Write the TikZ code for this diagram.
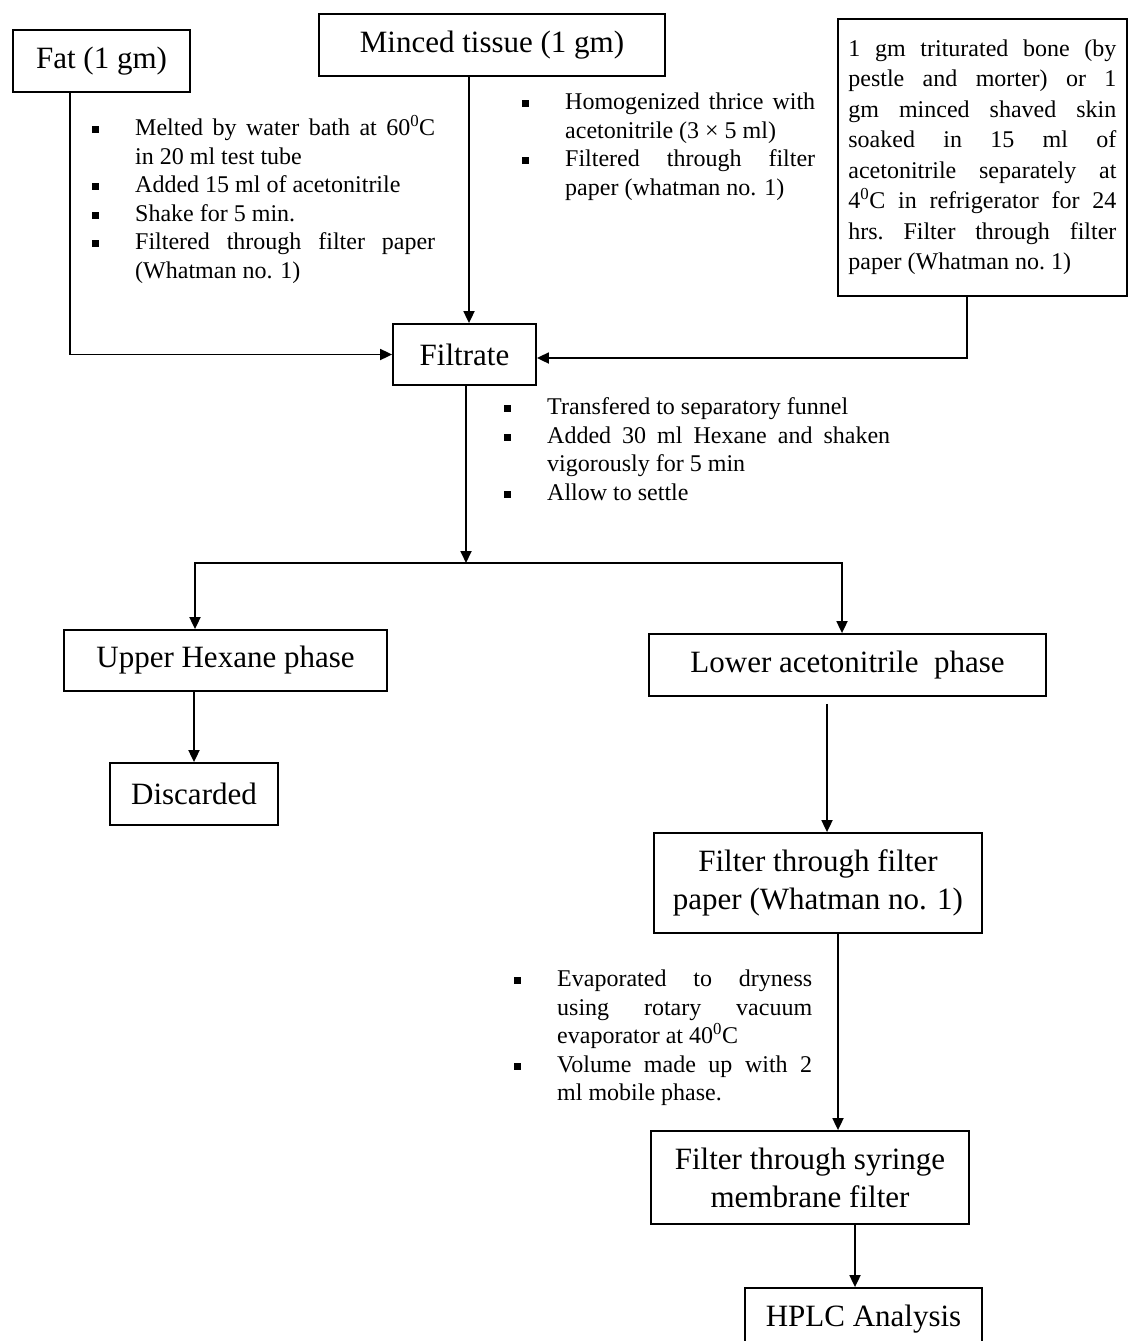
\documentclass[tikz,border=0pt]{standalone}
\usepackage{fontspec}
\setmainfont{Liberation Serif}
\usetikzlibrary{arrows.meta}
\tolerance=10000
\hbadness=10000
\newcommand{\bul}[1]{\par\hangindent=43pt\hangafter=1\noindent\makebox[43pt][l]{\raisebox{2.5pt}{\rule{7pt}{7pt}}}#1\par}
\newcommand{\degr}{\textsuperscript{0}}

\begin{document}
\begin{tikzpicture}[x=1pt,y=-1pt,
  box/.style={draw,line width=1.8pt,font=\fontsize{31}{38}\selectfont,align=center,inner sep=0pt},
  steps/.style={anchor=north west,inner sep=0pt,align=justify,font=\fontsize{24}{28.5}\selectfont},
  arr/.style={line width=1.8pt,-{Triangle[length=12pt,width=11pt]}}]
\useasboundingbox (0,0) rectangle (1127,1341);

\node[box,minimum width=177pt,minimum height=62pt] (fat) at (101.5,61) {Fat (1 gm)};
\node[box,minimum width=346pt,minimum height=62pt] (minced) at (492,45) {Minced tissue (1 gm)};
\node[box,anchor=north west,minimum width=289pt,minimum height=277pt,text width=268pt,inner xsep=10.5pt,
  align=justify,font=\fontsize{24}{30.5}\selectfont\frenchspacing] (bone) at (837,18)
  {1 gm triturated bone (by\linebreak pestle and morter) or 1\linebreak gm minced shaved skin\linebreak
   soaked in 15 ml of\linebreak acetonitrile separately at\linebreak 4\degr C in refrigerator for 24\linebreak
   hrs. Filter through filter\linebreak paper (Whatman no. 1)\par\vspace{18pt}};
\node[box,minimum width=143pt,minimum height=61pt] (filtrate) at (464.5,354.5) {Filtrate};
\node[box,minimum width=323pt,minimum height=61pt] (upper) at (225.5,660.5) {Upper Hexane phase};
\node[box,minimum width=168pt,minimum height=62pt] (discarded) at (194,794) {Discarded};
\node[box,minimum width=397pt,minimum height=62pt] (lower) at (847.5,665) {Lower acetonitrile\ \ phase};
\node[box,minimum width=328pt,minimum height=100pt] (filterpaper) at (818,883) {Filter through filter\\paper (Whatman no. 1)};
\node[box,minimum width=318pt,minimum height=93pt] (syringe) at (810,1177.5) {Filter through syringe\\membrane filter};
\node[box,minimum width=237pt,minimum height=62pt] (hplc) at (863.5,1319) {HPLC Analysis};

\node[steps,text width=343pt] (fatsteps) at (92,107)
  {\bul{Melted by water bath at 60\degr C\linebreak in 20 ml test tube}\bul{Added 15 ml of acetonitrile}%
   \bul{Shake for 5 min.}\bul{Filtered through filter paper\linebreak (Whatman no. 1)}};
\node[steps,text width=293pt] (mincedsteps) at (522,81)
  {\bul{Homogenized thrice with\linebreak acetonitrile (3 × 5 ml)}\bul{Filtered through filter\linebreak paper (whatman no. 1)}};
\node[steps,text width=386pt] (sepsteps) at (504,386)
  {\bul{Transfered to separatory funnel}\bul{Added 30 ml Hexane and shaken\linebreak vigorously for 5 min}\bul{Allow to settle}};
\node[steps,text width=298pt] (evapsteps) at (514,958)
  {\bul{Evaporated to dryness\linebreak using rotary vacuum\linebreak evaporator at 40\degr C}\bul{Volume made up with 2\linebreak ml mobile phase.}};

\coordinate (split) at (466,563);
\draw[arr] ([xshift=-31.5pt]fat.south) |- (filtrate.west);
\draw[arr] ([xshift=-23pt]minced.south) -- ([xshift=4.5pt]filtrate.north);
\draw[arr] ([xshift=-15.5pt]bone.south) |- ([yshift=-3.5pt]filtrate.east);
\draw[arr] ([xshift=1.5pt]filtrate.south) -- (split);
\draw[arr] (split) -| ([xshift=-30.5pt]upper.north);
\draw[arr] (split) -| ([xshift=-5.5pt]lower.north);
\draw[arr] ([xshift=-31.5pt]upper.south) -- (discarded.north);
\draw[arr] ([shift={(-20.5,7)}]lower.south) -- ([xshift=9pt]filterpaper.north);
\draw[arr] ([xshift=20pt]filterpaper.south) -- ([xshift=28pt]syringe.north);
\draw[arr] ([xshift=45pt]syringe.south) -- ([xshift=-8.5pt]hplc.north);
\end{tikzpicture}
\end{document}
